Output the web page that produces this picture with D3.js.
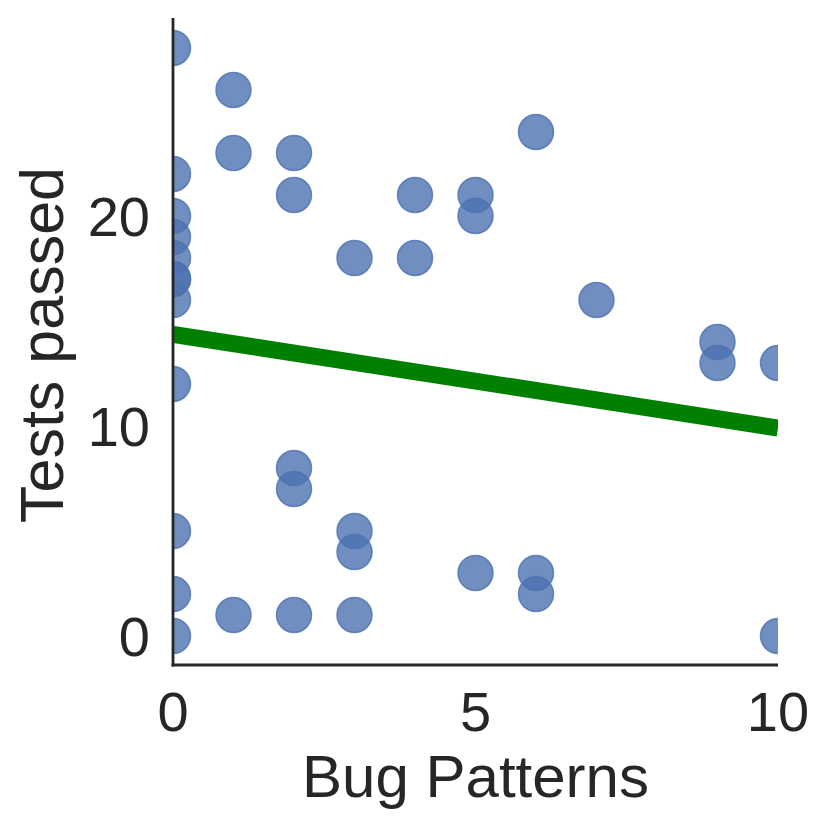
<!DOCTYPE html>
<html><head><meta charset="utf-8">
<script src="https://cdn.jsdelivr.net/npm/d3@7"></script>
<style>body{margin:0;background:#fff}svg{display:block}</style>
</head><body>
<svg id="c" width="830" height="829"></svg>
<script>
const bugPatterns = [0,0,0,0,0,0,0,0,0,0,0,0, 1,1,1, 2,2,2,2,2, 3,3,3,3, 4,4, 5,5,5, 6,6,6, 7, 9,9, 10,10];
const testsPassed = [28,22,20,19,18,17,17,16,12,5,2,0, 26,23,1, 23,21,8,7,1, 18,5,4,1, 21,18, 21,20,3, 24,3,2, 16, 14,13, 13,0];
const xTicks = [0,5,10];
const yTicks = [0,10,20];
const xLabel = "Bug Patterns";
const yLabel = "Tests passed";

const svg = d3.select("#c");
const L = 173, R = 778, T = 18, B = 665;
const x = d3.scaleLinear().domain([0,10]).range([L,R]);
const y = d3.scaleLinear().domain([-1.381, 29.43]).range([B,T]);
const font = "'Liberation Sans', Arial, sans-serif";
const ink = "#262626";

svg.append("defs").append("clipPath").attr("id","clip")
  .append("rect").attr("x",L).attr("y",T).attr("width",R-L).attr("height",B-T);

const pts = bugPatterns.map((v,i)=>({x:v,y:testsPassed[i]}));
const g = svg.append("g").attr("clip-path","url(#clip)");
g.selectAll("circle").data(pts).enter().append("circle")
  .attr("cx",d=>x(d.x)).attr("cy",d=>y(d.y)).attr("r",17.5)
  .attr("fill","#4C72B0").attr("fill-opacity",0.8)
  .attr("stroke","#4C72B0").attr("stroke-opacity",0.8).attr("stroke-width",1.5);

// least squares fit
const mx = d3.mean(pts,d=>d.x), my = d3.mean(pts,d=>d.y);
const sxy = d3.sum(pts,d=>(d.x-mx)*(d.y-my)), sxx = d3.sum(pts,d=>(d.x-mx)**2);
const slope = sxy/sxx, icpt = my - slope*mx;
const xs = x.domain();
g.append("path").datum(xs.map(v=>[v, icpt+slope*v]))
  .attr("d", d3.line().x(d=>x(d[0])).y(d=>y(d[1])))
  .attr("stroke","#008000").attr("stroke-width",17).attr("fill","none");

// spines
svg.append("line").attr("x1",L).attr("x2",L).attr("y1",T).attr("y2",B+1.4).attr("stroke",ink).attr("stroke-width",2.8);
svg.append("line").attr("x1",L-1.4).attr("x2",R).attr("y1",B).attr("y2",B).attr("stroke",ink).attr("stroke-width",2.8);

// ticks
svg.selectAll(".yt").data(yTicks).enter().append("text")
  .attr("x",150).attr("y",d=>y(d)).attr("dy","0.36em").attr("text-anchor","end")
  .attr("font-family",font).attr("font-size",56).attr("fill",ink).text(d=>d);
svg.selectAll(".xt").data(xTicks).enter().append("text")
  .attr("x",d=>x(d)).attr("y",731).attr("text-anchor","middle")
  .attr("font-family",font).attr("font-size",56).attr("fill",ink).text(d=>d);

svg.append("text").attr("x",(L+R)/2).attr("y",797).attr("text-anchor","middle")
  .attr("font-family",font).attr("font-size",60).attr("fill",ink).text(xLabel);
svg.append("text").attr("transform",`translate(63,345) rotate(-90)`).attr("text-anchor","middle")
  .attr("font-family",font).attr("font-size",61).attr("fill",ink).text(yLabel);
</script>
</body></html>
